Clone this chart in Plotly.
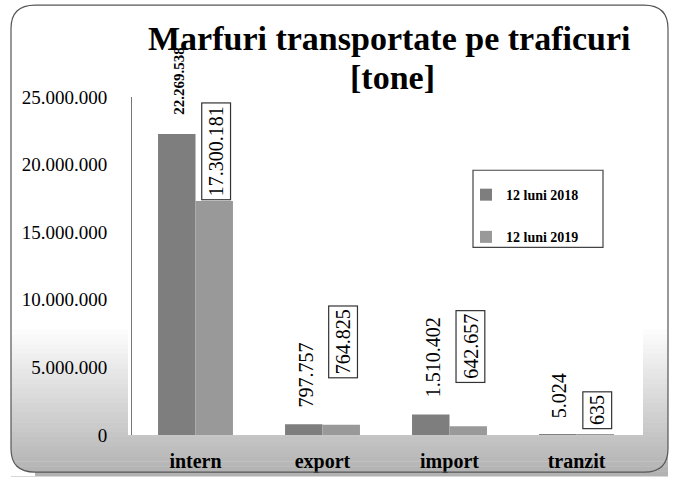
import plotly.graph_objects as go

# ---- data ----
categories = ["intern", "export", "import", "tranzit"]
series_names = ["12 luni 2018", "12 luni 2019"]
values_2018 = [22269538, 797757, 1510402, 5024]
values_2019 = [17300181, 764825, 642657, 635]
y_tick_values = [0, 5000000, 10000000, 15000000, 20000000, 25000000]
title_lines = ["Marfuri transportate pe traficuri", "[tone]"]

# ---- style / layout constants ----
W, H = 675, 485
PL, PR, PT, PB = 132, 640, 97, 443   # plot area in pixels
BARGAP = 0.41
cat_px = (PR - PL) / len(categories)
bar_px = cat_px * (1 - BARGAP) / 2
label18_shift = [17, 15, 15, 15]
label18_size = [15, 20, 20, 20]
label19_shift = [1, 46, 43, 6]
FONT = "Liberation Serif"


def fmt(v):
    return f"{v:,}".replace(",", ".")


def px_x(x):
    return (x - PL) / (PR - PL)


def px_y(y):
    return (PB - y) / (PB - PT)


fig = go.Figure()
fig.add_trace(go.Bar(x=categories, y=values_2018, name=series_names[0],
                     marker=dict(color="#7e7e7e", line=dict(width=0)),
                     legendgroup="a"))
fig.add_trace(go.Bar(x=categories, y=values_2019, name=series_names[1],
                     marker=dict(color="#999999", line=dict(width=0)),
                     legendgroup="b"))

shapes = []
# background gradient (white top -> gray bottom)
y0 = 335
steps = 30
for i in range(steps):
    ya = y0 + (H - y0) * i / steps
    yb = y0 + (H - y0) * (i + 1) / steps
    g = int(255 - (255 - 178) * (i + 1) / steps)
    col = f"rgb({g},{g},{g})"
    shapes.append(dict(type="rect", xref="paper", yref="paper", layer="below",
                       x0=px_x(11), x1=px_x(668), y0=px_y(ya), y1=px_y(yb + 0.5),
                       fillcolor=col, line=dict(width=0)))
# white plot area
shapes.append(dict(type="rect", xref="paper", yref="paper", layer="below",
                   x0=px_x(128), x1=px_x(643), y0=px_y(PB), y1=px_y(60),
                   fillcolor="white", line=dict(width=0)))
# white outside rounded corners
r = 24
bl = (f"M {px_x(0)},{px_y(H)} L {px_x(0)},{px_y(H - r - 6)} L {px_x(11)},{px_y(H - r - 6)} "
      f"Q {px_x(11)},{px_y(H - 4)} {px_x(11 + r)},{px_y(H - 4)} L {px_x(11 + r)},{px_y(H)} Z")
shapes.append(dict(type="path", xref="paper", yref="paper", layer="below",
                   path=bl, fillcolor="white", line=dict(width=0)))
# chart border with rounded corners
x_l, x_r, y_t, y_b = 11, 668, 3, 481
border = (f"M {px_x(x_l + r)},{px_y(y_t)} L {px_x(x_r - r)},{px_y(y_t)} "
          f"Q {px_x(x_r)},{px_y(y_t)} {px_x(x_r)},{px_y(y_t + r)} "
          f"L {px_x(x_r)},{px_y(y_b - r)} Q {px_x(x_r)},{px_y(y_b)} {px_x(x_r - r)},{px_y(y_b)} "
          f"L {px_x(x_l + r)},{px_y(y_b)} Q {px_x(x_l)},{px_y(y_b)} {px_x(x_l)},{px_y(y_b - r)} "
          f"L {px_x(x_l)},{px_y(y_t + r)} Q {px_x(x_l)},{px_y(y_t)} {px_x(x_l + r)},{px_y(y_t)} Z")
shapes.append(dict(type="path", xref="paper", yref="paper", layer="above",
                   path=border, line=dict(color="#555555", width=1.2)))
# legend box
shapes.append(dict(type="rect", xref="paper", yref="paper", layer="above",
                   x0=px_x(473), x1=px_x(603), y0=px_y(172), y1=px_y(251),
                   line=dict(color="#444444", width=1.2), fillcolor="rgba(0,0,0,0)"))

annotations = []
# title
annotations.append(dict(text=f"<b>{title_lines[0]}</b>", xref="paper", yref="paper",
                        x=px_x(389), y=px_y(37), xanchor="center", yanchor="middle",
                        showarrow=False,
                        font=dict(family=FONT, size=34, color="black")))
annotations.append(dict(text=f"<b>{title_lines[1]}</b>", xref="paper", yref="paper",
                        x=px_x(392), y=px_y(77), xanchor="center", yanchor="middle",
                        showarrow=False,
                        font=dict(family=FONT, size=34, color="black")))
# data labels
for i, c in enumerate(categories):
    annotations.append(dict(text=fmt(values_2018[i]) if i else f"<b>{fmt(values_2018[i])}</b>",
                            x=c, y=values_2018[i], xref="x", yref="y",
                            xshift=-bar_px / 2 + 2, yshift=label18_shift[i],
                            xanchor="center", yanchor="bottom", textangle=-90, showarrow=False,
                            font=dict(family=FONT, size=label18_size[i], color="black")))
    annotations.append(dict(text=fmt(values_2019[i]),
                            x=c, y=values_2019[i], xref="x", yref="y",
                            xshift=bar_px / 2 + 2, yshift=label19_shift[i],
                            xanchor="center", yanchor="bottom", textangle=-90, showarrow=False,
                            bordercolor="#333333", borderwidth=1.2, borderpad=3,
                            bgcolor="white",
                            font=dict(family=FONT, size=20, color="black")))

fig.update_layout(
    width=W, height=H,
    font=dict(family=FONT, color="black"),
    margin=dict(l=PL, r=W - PR, t=PT, b=H - PB, pad=0),
    paper_bgcolor="white", plot_bgcolor="rgba(0,0,0,0)",
    separators=",.",
    barmode="group", bargap=BARGAP, bargroupgap=0,
    showlegend=True,
    legend=dict(x=px_x(466), y=px_y(181), xanchor="left", yanchor="top",
                bgcolor="rgba(0,0,0,0)", borderwidth=0, tracegroupgap=21,
                font=dict(family=FONT, size=14, color="black", weight="bold")),
    shapes=shapes, annotations=annotations,
    xaxis=dict(showline=False, showgrid=False, zeroline=False, ticks="",
               tickfont=dict(family=FONT, size=20, color="black", weight="bold"),
               ticklabelstandoff=12),
    yaxis=dict(range=[0, 25000000], tickvals=y_tick_values,
               ticktext=[fmt(v) for v in y_tick_values],
               showline=True, linecolor="#777777", linewidth=1,
               showgrid=False, zeroline=False, ticks="",
               tickfont=dict(family=FONT, size=19, color="black"),
               ticklabelstandoff=20),
)

fig.write_html("out.html", config={"displayModeBar": False},
               post_script="document.body.style.margin='0';")
